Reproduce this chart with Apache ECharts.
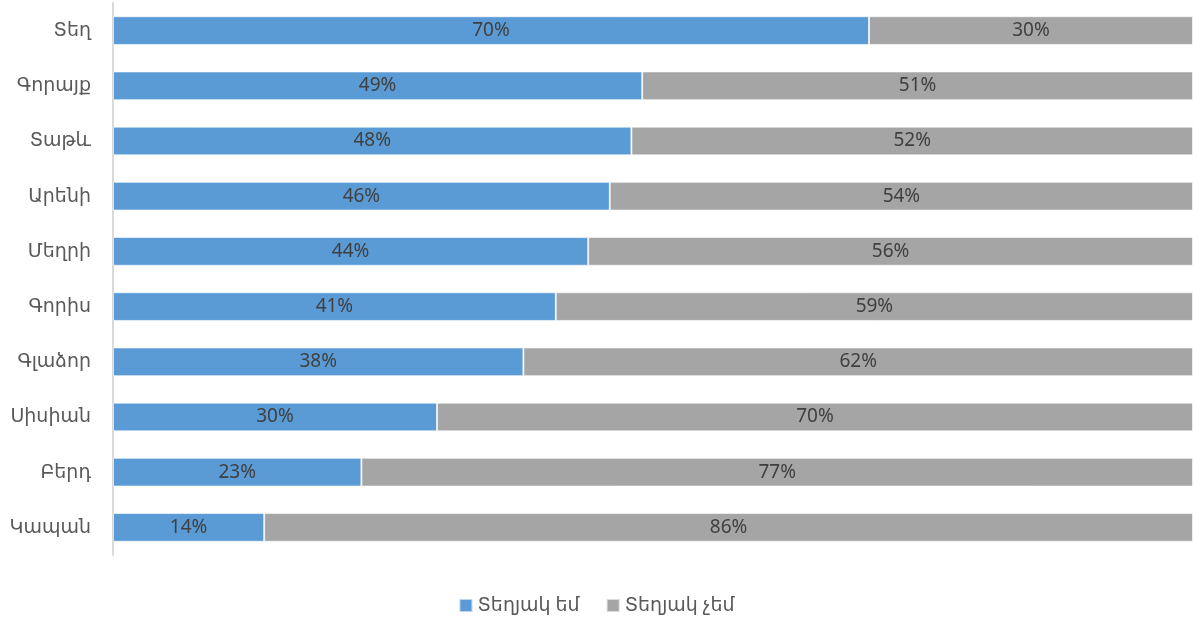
<!DOCTYPE html>
<html><head><meta charset="utf-8">
<script src="https://cdn.jsdelivr.net/npm/echarts@6/dist/echarts.min.js"></script>
<style>html,body{margin:0;padding:0;background:#fff}#c{width:1193px;height:620px}</style>
</head><body><div id="c"></div>
<script>
const categories = ['Տեղ','Գորայք','Տաթև','Արենի','Մեղրի','Գորիս','Գլաձոր','Սիսիան','Բերդ','Կապան'];
const seriesNames = ['Տեղյակ եմ','Տեղյակ չեմ'];
const yesValues = [70,49,48,46,44,41,38,30,23,14];
const noValues = [30,51,52,54,56,59,62,70,77,86];
const colors = ['#5b9bd5','#a5a5a5'];
const font = '"Noto Sans", "DejaVu Sans", sans-serif';
const chart = echarts.init(document.getElementById('c'));
const mk = (name, data, color) => ({
  name, type:'bar', stack:'t', data, barWidth:'52%',
  itemStyle:{color, borderColor:'rgba(255,255,255,0.6)', borderWidth:1},
  label:{show:true, position:'inside', formatter:'{c}%', color:'#404040', fontSize:19, fontFamily:font},
  emphasis:{disabled:true}
});
chart.setOption({
  animation:false,
  grid:{left:113, right:0, top:3, bottom:65},
  xAxis:{type:'value', min:0, max:100, show:false},
  yAxis:{type:'category', data:categories, inverse:true,
    axisLine:{show:true, lineStyle:{color:'#d9d9d9', width:2}}, axisTick:{show:false},
    axisLabel:{color:'#595959', fontSize:19, fontFamily:font, margin:22}},
  legend:{bottom:0, left:'center', itemWidth:13, itemHeight:13, itemGap:26,
    icon:'rect', textStyle:{color:'#595959', fontSize:19, fontFamily:font}, data:seriesNames},
  series:[mk(seriesNames[0], yesValues, colors[0]), mk(seriesNames[1], noValues, colors[1])]
});
</script></body></html>
